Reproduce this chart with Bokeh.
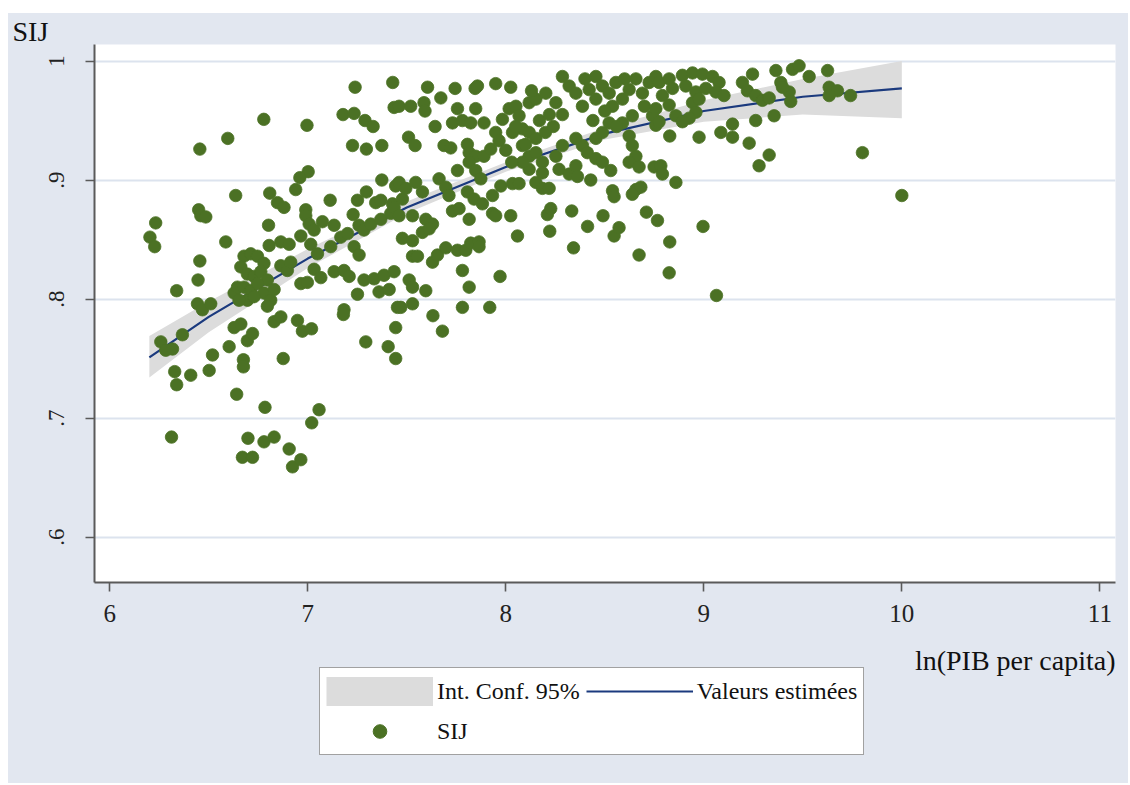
from bokeh.plotting import figure
from bokeh.layouts import column
from bokeh.models import Range1d, FixedTicker, Legend, LegendItem, Title, ColumnDataSource
from bokeh.core.properties import value
from bokeh.embed import file_html
from bokeh.resources import INLINE

FONT = "Liberation Serif"
BG = "#E2E7F0"
DOT = "#4B7124"
LINE = "#1B3A7E"
BAND = "#DCDCDC"
AXIS = "#5A5A5A"
GRID = "#DCE3EE"
NAN = float("nan")

# ---- data ----
ln_pib = [
    # upper-left
    6.455, 6.596, 6.778, 6.996, 7.239, 7.429, 7.178, 7.234, 7.289, 7.330, 7.226, 7.296, 7.374, 7.436,
    7.002, 6.960, 6.939, 6.636, 6.808, 6.847, 6.880, 7.374, 7.444, 7.113, 7.251, 7.296, 7.343, 7.369,
    7.428, 6.449, 6.990,
    # left / lower-left
    6.232, 6.203, 6.227, 6.460, 6.485, 6.455, 6.446, 6.338, 6.586, 6.802, 6.990, 7.007, 7.032, 7.074,
    7.133, 7.229, 7.259, 7.284, 7.318, 7.369, 7.419, 7.436, 6.805, 6.864, 6.906, 6.965, 7.015, 7.049,
    7.116, 7.167, 7.201, 7.234, 7.259, 6.864, 6.897, 6.914, 6.965, 6.998, 7.032, 7.066, 7.133, 7.183,
    7.209, 7.284, 7.335, 7.385, 7.436, 7.251, 7.360, 7.411, 7.453, 7.444, 7.444, 7.183, 7.180, 6.830,
    6.864, 6.948, 6.973, 7.019, 6.628, 6.662, 6.695, 6.721, 6.603, 6.675, 6.675, 6.519, 6.502, 6.876,
    7.293, 7.406, 6.367, 6.258, 6.283, 6.317, 6.328, 6.338, 6.409, 6.641, 6.784, 7.057, 7.020, 6.312,
    6.698, 6.779, 6.830, 6.670, 6.721, 6.906, 6.923, 6.965, 6.443, 6.468, 6.510, 6.628, 6.645,
    6.678, 6.712, 6.746, 6.779, 6.662, 6.695, 6.729, 6.763, 6.796, 6.678, 6.712, 6.746, 6.779, 6.813,
    6.830, 6.695, 6.729, 6.796, 6.653,
    # middle-upper
    7.605, 7.744, 7.845, 7.857, 7.949, 8.025, 7.461, 7.520, 7.587, 7.592, 7.672, 7.756, 7.848, 7.643,
    7.731, 7.781, 7.823, 7.890, 7.509, 7.542, 7.688, 7.722, 7.806, 7.815, 7.848, 7.890, 7.924, 7.949,
    7.966, 7.756, 7.815, 7.848, 7.874, 7.975, 8.034, 8.067,
    7.983, 8.017, 8.051, 8.067, 8.118, 8.152, 8.084, 8.118, 8.152, 8.084, 8.118, 8.152, 8.185, 8.185,
    8.118, 8.152, 8.185, 8.219, 8.084, 8.034, 8.050, 8.100, 8.170, 8.200, 8.220, 8.000, 8.030, 8.130,
    8.240,
    8.286, 8.320, 8.202, 8.253, 8.286, 8.354, 8.387, 8.421, 8.455, 8.488, 8.455, 8.522, 8.556, 8.539,
    8.589, 8.623, 8.657, 8.690, 8.724, 8.758, 8.639, 8.589, 8.522, 8.488, 8.455, 8.387, 8.354, 8.286,
    8.253, 8.623, 8.639, 8.657, 8.741, 8.758, 8.412, 8.455, 8.488, 8.530, 8.269, 8.320, 8.354, 8.362,
    8.429, 8.623, 8.673, 8.749, 8.539, 8.657, 8.682, 8.400, 8.500, 8.600, 8.700, 8.440, 8.560,
    7.461, 7.495, 7.545, 7.579, 7.478, 7.663, 7.697, 7.713, 7.806, 7.840, 7.882, 7.933,
    # middle-lower
    7.461, 7.529, 7.596, 7.630, 7.579, 7.613, 7.478, 7.529, 7.731, 7.764, 7.815, 7.933, 7.949, 8.025,
    8.059, 8.210, 8.227, 8.222, 8.333, 8.413, 8.491, 8.547, 8.572, 8.710, 8.766, 8.342, 8.673, 7.529,
    7.554, 7.630, 7.655, 7.697, 7.756, 7.798, 7.823, 7.865, 7.865, 7.781, 7.815, 7.971, 7.512, 7.529,
    7.596, 7.470, 7.529, 7.781, 7.919, 7.632, 7.680,
    8.828, 8.825, 8.859, 8.547, 8.639,
    # right
    8.774, 8.825, 8.892, 8.943, 8.993, 9.044, 9.077, 8.791, 8.842, 8.909, 8.960, 9.010, 9.061, 8.758,
    8.825, 8.943, 8.976, 8.960, 8.926, 8.859, 8.892, 8.774, 9.102, 9.195, 9.246, 9.220, 9.262, 9.296,
    9.330, 9.364, 9.389, 9.448, 9.481, 9.532, 9.431, 9.397, 9.439, 9.625, 9.633, 9.675, 9.633, 9.741,
    9.262, 9.355, 8.828, 8.976, 9.086, 9.145, 9.145, 9.229, 9.330, 9.279, 9.801, 8.783, 8.791, 10.000,
    8.996, 9.064,
]
sij = [
    0.926, 0.935, 0.951, 0.946, 0.978, 0.982, 0.955, 0.956, 0.950, 0.945, 0.929, 0.926, 0.929, 0.961,
    0.907, 0.902, 0.892, 0.887, 0.889, 0.881, 0.877, 0.900, 0.895, 0.883, 0.883, 0.890, 0.881, 0.883,
    0.880, 0.875, 0.875,
    0.864, 0.852, 0.844, 0.870, 0.869, 0.832, 0.816, 0.807, 0.848, 0.862, 0.870, 0.863, 0.858, 0.865,
    0.862, 0.871, 0.862, 0.858, 0.863, 0.867, 0.872, 0.877, 0.845, 0.848, 0.846, 0.853, 0.846, 0.838,
    0.844, 0.852, 0.855, 0.844, 0.837, 0.828, 0.824, 0.831, 0.813, 0.814, 0.825, 0.818, 0.823, 0.824,
    0.819, 0.816, 0.817, 0.820, 0.823, 0.804, 0.806, 0.808, 0.793, 0.776, 0.750, 0.791, 0.787, 0.781,
    0.785, 0.782, 0.773, 0.775, 0.776, 0.779, 0.765, 0.771, 0.760, 0.749, 0.743, 0.753, 0.740, 0.750,
    0.764, 0.760, 0.770, 0.764, 0.757, 0.758, 0.739, 0.728, 0.736, 0.720, 0.709, 0.707, 0.696, 0.684,
    0.683, 0.680, 0.684, 0.667, 0.667, 0.674, 0.659, 0.665, 0.796, 0.791, 0.796, 0.805, 0.810,
    0.836, 0.838, 0.836, 0.830, 0.827, 0.821, 0.819, 0.823, 0.816, 0.810, 0.807, 0.813, 0.805, 0.799,
    0.808, 0.799, 0.802, 0.794, 0.799,
    0.978, 0.977, 0.977, 0.979, 0.981, 0.978, 0.962, 0.962, 0.965, 0.958, 0.969, 0.960, 0.960, 0.945,
    0.948, 0.950, 0.948, 0.948, 0.936, 0.929, 0.929, 0.927, 0.930, 0.923, 0.920, 0.920, 0.926, 0.940,
    0.933, 0.908, 0.915, 0.908, 0.901, 0.895, 0.897, 0.897,
    0.951, 0.960, 0.962, 0.954, 0.965, 0.968, 0.943, 0.940, 0.935, 0.929, 0.920, 0.923, 0.915, 0.906,
    0.909, 0.898, 0.893, 0.893, 0.915, 0.940, 0.945, 0.930, 0.950, 0.940, 0.955, 0.925, 0.915, 0.975,
    0.945,
    0.987, 0.979, 0.973, 0.965, 0.955, 0.973, 0.962, 0.976, 0.987, 0.979, 0.968, 0.973, 0.982, 0.962,
    0.968, 0.976, 0.985, 0.973, 0.982, 0.987, 0.954, 0.948, 0.948, 0.940, 0.935, 0.929, 0.935, 0.929,
    0.920, 0.937, 0.929, 0.920, 0.954, 0.946, 0.923, 0.918, 0.915, 0.908, 0.909, 0.905, 0.912, 0.903,
    0.900, 0.915, 0.911, 0.911, 0.891, 0.892, 0.894, 0.985, 0.958, 0.985, 0.962, 0.950, 0.945,
    0.898, 0.893, 0.898, 0.890, 0.884, 0.901, 0.894, 0.887, 0.890, 0.884, 0.880, 0.887,
    0.870, 0.870, 0.867, 0.863, 0.856, 0.859, 0.851, 0.849, 0.874, 0.876, 0.867, 0.872, 0.870, 0.870,
    0.853, 0.871, 0.876, 0.857, 0.874, 0.861, 0.870, 0.853, 0.860, 0.873, 0.866, 0.843, 0.837, 0.836,
    0.836, 0.831, 0.837, 0.843, 0.841, 0.841, 0.847, 0.848, 0.844, 0.824, 0.810, 0.819, 0.816, 0.810,
    0.807, 0.793, 0.796, 0.793, 0.793, 0.786, 0.773,
    0.848, 0.822, 0.898, 0.886, 0.888,
    0.982, 0.985, 0.988, 0.990, 0.989, 0.987, 0.982, 0.971, 0.977, 0.979, 0.974, 0.977, 0.974, 0.960,
    0.963, 0.965, 0.968, 0.957, 0.952, 0.954, 0.949, 0.949, 0.971, 0.982, 0.989, 0.975, 0.971, 0.967,
    0.969, 0.992, 0.982, 0.993, 0.996, 0.987, 0.974, 0.978, 0.966, 0.992, 0.978, 0.975, 0.971, 0.971,
    0.950, 0.954, 0.937, 0.936, 0.940, 0.947, 0.936, 0.931, 0.921, 0.912, 0.923, 0.912, 0.905, 0.887,
    0.861, 0.803,
]

# fitted values and 95% band
fit_x = [6.2, 6.5, 7.0, 7.5, 8.0, 8.5, 9.0, 9.5, 10.0]
fit_y = [0.751, 0.785, 0.834, 0.877, 0.911, 0.939, 0.958, 0.970, 0.977]
ci_low = [0.734, 0.772, 0.826, 0.872, 0.907, 0.934, 0.949, 0.955, 0.952]
ci_high = [0.769, 0.798, 0.842, 0.882, 0.915, 0.944, 0.967, 0.985, 1.000]

x_ticks = [6, 7, 8, 9, 10, 11]
x_tick_labels = ["6", "7", "8", "9", "10", "11"]
y_ticks = [0.6, 0.7, 0.8, 0.9, 1.0]
y_tick_labels = [".6", ".7", ".8", ".9", "1"]

x_title = "ln(PIB per capita)"
y_title = "SIJ"
legend_labels = ["Int. Conf. 95%", "Valeurs estimées", "SIJ"]

# ---- main figure ----
p = figure(width=1120, height=627,
           x_range=Range1d(5.923, 11.079), y_range=Range1d(0.5618, 1.0139),
           output_backend="svg", toolbar_location=None,
           min_border_left=86, min_border_right=13, min_border_top=31, min_border_bottom=58)
p.background_fill_color = "white"
p.border_fill_color = BG
p.outline_line_color = None

band = p.varea(x=fit_x, y1=ci_low, y2=ci_high, fill_color=BAND, fill_alpha=1.0)
fit = p.line(x=fit_x, y=fit_y, line_color=LINE, line_width=2.2)
src = ColumnDataSource(dict(x=ln_pib, y=sij))
pts = p.scatter("x", "y", source=src, marker="circle", size=12.5,
                fill_color=DOT, line_color=DOT, line_width=0.8)

for ax in (p.xaxis[0], p.yaxis[0]):
    ax.axis_line_color = AXIS
    ax.axis_line_width = 2
    ax.major_tick_line_color = AXIS
    ax.major_tick_line_width = 1.6
    ax.major_tick_out = 9
    ax.major_tick_in = 0
    ax.minor_tick_line_color = None
    ax.major_label_text_font = FONT
    ax.major_label_text_color = "#222222"

xa = p.xaxis[0]
xa.ticker = FixedTicker(ticks=x_ticks)
xa.major_label_overrides = dict(zip(x_ticks, x_tick_labels))
xa.major_label_text_font_size = "25px"
xa.major_label_standoff = 13

ya = p.yaxis[0]
ya.ticker = FixedTicker(ticks=y_ticks)
ya.major_label_overrides = dict(zip(y_ticks, y_tick_labels))
ya.major_label_text_font_size = "23px"
ya.major_label_orientation = "vertical"
ya.major_label_standoff = 21

p.xgrid.visible = False
p.ygrid.ticker = FixedTicker(ticks=y_ticks)
p.ygrid.grid_line_color = GRID
p.ygrid.grid_line_width = 2

p.add_layout(Title(text=y_title, align="left", offset=-82, standoff=-5,
                   text_font=FONT, text_font_size="28px", text_font_style="normal",
                   text_color="#111111"), "above")

# ---- strip below: x-axis title + legend (page-pixel coordinates) ----
TOP, BOTTOM = 640, 783
q = figure(width=1120, height=BOTTOM - TOP, title=None,
           x_range=Range1d(94, 1115), y_range=Range1d(BOTTOM, TOP),
           output_backend="svg", toolbar_location=None,
           min_border_left=86, min_border_right=13, min_border_top=0, min_border_bottom=0)
q.axis.visible = False
q.grid.visible = False
q.outline_line_color = None
q.background_fill_color = BG
q.border_fill_color = BG

q.text(x=[1115], y=[660], text=[x_title], text_align="right", text_baseline="middle",
       text_font=value(FONT), text_font_size="28px", text_color="#111111")

# legend keys (no visible data in this strip)
band_k = q.line(x=[NAN], y=[NAN], line_color=BAND, line_width=29, line_cap="butt")
fit_k = q.line(x=[NAN], y=[NAN], line_color=LINE, line_width=2.2)
pts_k = q.scatter(x=[NAN], y=[NAN], marker="circle", size=12.5, fill_color=DOT, line_color=DOT)

legend = Legend(items=[LegendItem(label=legend_labels[0], renderers=[band_k]),
                       LegendItem(label=legend_labels[1], renderers=[fit_k]),
                       LegendItem(label=legend_labels[2], renderers=[pts_k])],
                orientation="horizontal", ncols=2, location=(225, 28),
                glyph_width=107, glyph_height=34, label_height=34, label_standoff=4,
                spacing=6, padding=6, margin=0,
                label_text_font=FONT, label_text_font_size="24px", label_text_color="#111111",
                border_line_color="#444444", border_line_width=1.5,
                background_fill_color="white", background_fill_alpha=1.0)
q.add_layout(legend, "center")

layout = column(p, q, spacing=0, margin=(13, 0, 0, 8), styles={"background-color": BG})
open("out.html", "w").write(file_html(layout, INLINE))
